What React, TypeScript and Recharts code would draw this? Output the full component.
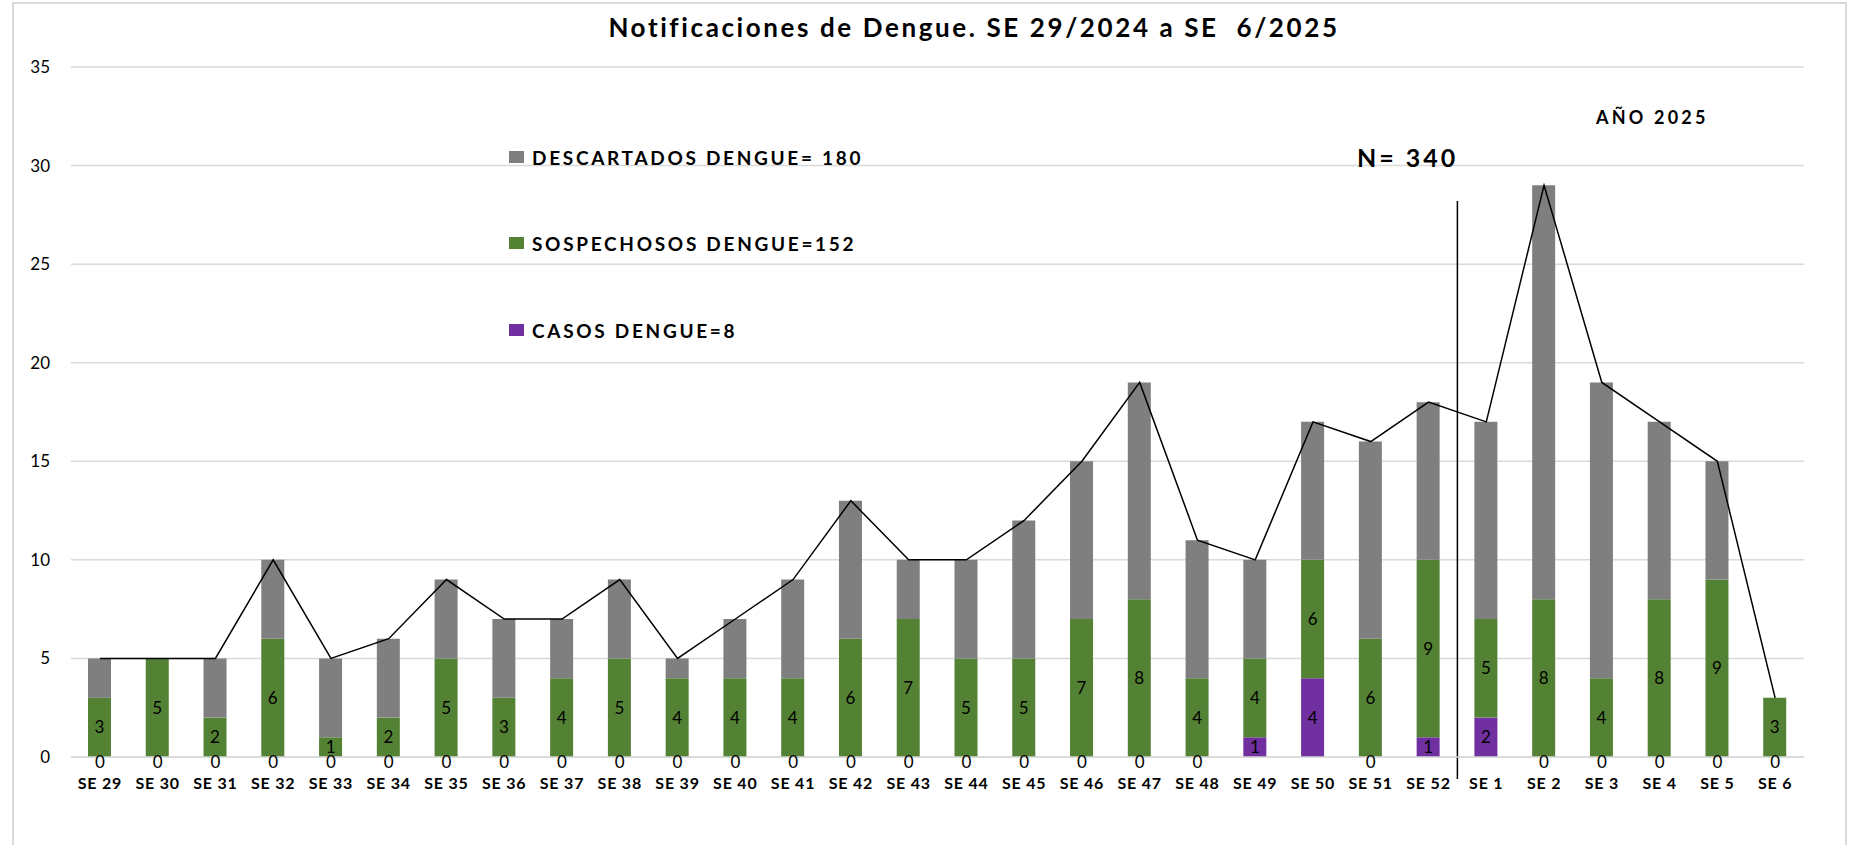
import { ComposedChart, Bar, Line, XAxis, YAxis, CartesianGrid, LabelList, ReferenceLine } from 'recharts'

const semanas = [
  'SE 29', 'SE 30', 'SE 31', 'SE 32', 'SE 33', 'SE 34', 'SE 35', 'SE 36', 'SE 37', 'SE 38',
  'SE 39', 'SE 40', 'SE 41', 'SE 42', 'SE 43', 'SE 44', 'SE 45', 'SE 46', 'SE 47', 'SE 48',
  'SE 49', 'SE 50', 'SE 51', 'SE 52', 'SE 1', 'SE 2', 'SE 3', 'SE 4', 'SE 5', 'SE 6',
]
const casos = [0, 0, 0, 0, 0, 0, 0, 0, 0, 0, 0, 0, 0, 0, 0, 0, 0, 0, 0, 0, 1, 4, 0, 1, 2, 0, 0, 0, 0, 0]
const sospechosos = [3, 5, 2, 6, 1, 2, 5, 3, 4, 5, 4, 4, 4, 6, 7, 5, 5, 7, 8, 4, 4, 6, 6, 9, 5, 8, 4, 8, 9, 3]
const descartados = [2, 0, 3, 4, 4, 4, 4, 4, 3, 4, 1, 3, 5, 7, 3, 5, 7, 8, 11, 7, 5, 7, 10, 8, 10, 21, 15, 9, 6, 0]
const totales = [5, 5, 5, 10, 5, 6, 9, 7, 7, 9, 5, 7, 9, 13, 10, 10, 12, 15, 19, 11, 10, 17, 16, 18, 17, 29, 19, 17, 15, 3]
const yTicks = [0, 5, 10, 15, 20, 25, 30, 35]

// separador 2024 / 2025, al final de la banda SE 52
const separador = [
  { x: 'SE 52', y: 28.2 },
  { x: 'SE 52', y: -1.12 },
]

const leyenda = [
  { label: 'DESCARTADOS DENGUE= 180', color: '#7f7f7f', top: 157 },
  { label: 'SOSPECHOSOS DENGUE=152', color: '#548235', top: 243 },
  { label: 'CASOS DENGUE=8', color: '#7030a0', top: 330 },
]

const data = semanas.map((se, i) => ({
  se,
  casos: casos[i],
  sospechosos: sospechosos[i],
  descartados: descartados[i],
  total: totales[i],
}))

const font = 'Lato, "Open Sans", sans-serif'

// etiqueta "0" bajo las barras sin casos
const ceroLabel = (props: any) => {
  const { x, y, value } = props
  if (value !== 0) return null
  return (
    <text x={x} y={y + 4} textAnchor="middle" dominantBaseline="central" fontSize={17} fontFamily={font} fill="#000">
      0
    </text>
  )
}

export default function App() {
  return (
    <div style={{ position: 'absolute', left: 0, top: 0, width: 1850, height: 845, background: '#fff', fontFamily: font, overflow: 'hidden' }}>
      <div style={{ position: 'absolute', left: 12, top: 2, width: 1831, height: 860, border: '2px solid #d9d9d9' }} />
      <ComposedChart
        width={1850}
        height={845}
        data={data}
        margin={{ top: 67, right: 46, left: 21, bottom: 48 }}
        style={{ position: 'absolute', left: 0, top: 0 }}
      >
        <CartesianGrid stroke="#d9d9d9" strokeWidth={1.5} vertical={false} />
        <XAxis
          dataKey="se"
          interval={0}
          height={40}
          tickSize={0}
          tickMargin={21}
          axisLine={{ stroke: '#d9d9d9', strokeWidth: 1.5 }}
          tick={{ fill: '#000', fontSize: 16, fontWeight: 700, fontFamily: font, letterSpacing: 0.8 }}
        />
        <YAxis
          width={50}
          domain={[0, 35]}
          ticks={yTicks}
          tickSize={0}
          tickMargin={21}
          axisLine={false}
          tick={{ fill: '#000', fontSize: 17, fontFamily: font }}
        />
        <Bar dataKey="casos" stackId="a" fill="#7030a0" barSize={23} isAnimationActive={false}>
          <LabelList dataKey="casos" position="center" fill="#000" fontSize={17} fontFamily={font} formatter={(v: any) => (v ? v : '')} />
        </Bar>
        <Bar dataKey="sospechosos" stackId="a" fill="#548235" barSize={23} isAnimationActive={false}>
          <LabelList dataKey="sospechosos" position="center" fill="#000" fontSize={17} fontFamily={font} />
        </Bar>
        <Bar dataKey="descartados" stackId="a" fill="#7f7f7f" barSize={23} isAnimationActive={false} />
        <Line type="linear" dataKey="casos" stroke="none" dot={false} activeDot={false} isAnimationActive={false}>
          <LabelList dataKey="casos" content={ceroLabel} />
        </Line>
        <Line type="linear" dataKey="total" stroke="#000" strokeWidth={1.5} dot={false} activeDot={false} isAnimationActive={false} />
        <ReferenceLine segment={separador} position="end" stroke="#000" strokeWidth={1.5} ifOverflow="visible" />
      </ComposedChart>

      <div style={{ position: 'absolute', left: 604, top: 10, width: 740, textAlign: 'center', whiteSpace: 'pre', fontSize: 26, fontWeight: 700, letterSpacing: 2.6, color: '#000', lineHeight: '34px' }}>
        {'Notificaciones de Dengue. SE 29/2024 a SE  6/2025'}
      </div>

      {leyenda.map((l) => (
        <div key={l.label} style={{ position: 'absolute', left: 509, top: l.top - 12, height: 24, display: 'flex', alignItems: 'center' }}>
          <span style={{ display: 'inline-block', width: 15, height: 12, background: l.color, marginRight: 8 }} />
          <span style={{ fontSize: 19, fontWeight: 700, letterSpacing: 2.7, color: '#000', whiteSpace: 'pre' }}>{l.label}</span>
        </div>
      ))}

      <div style={{ position: 'absolute', left: 1357, top: 142, fontSize: 25, fontWeight: 700, letterSpacing: 3, color: '#000', lineHeight: '30px', whiteSpace: 'pre' }}>N= 340</div>
      <div style={{ position: 'absolute', left: 1596, top: 105, fontSize: 18, fontWeight: 700, letterSpacing: 3.2, color: '#000', lineHeight: '24px', whiteSpace: 'pre' }}>AÑO 2025</div>
    </div>
  )
}
